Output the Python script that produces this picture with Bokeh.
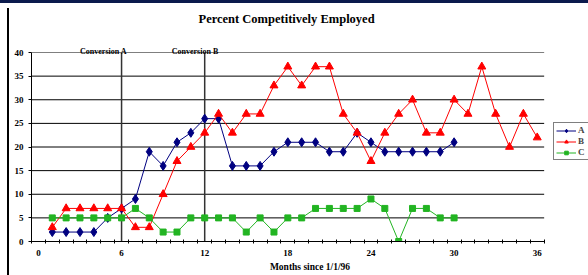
from bokeh.plotting import figure
from bokeh.models import Range1d, FixedTicker, Legend, LegendItem, LinearAxis
from bokeh.embed import file_html
from bokeh.resources import INLINE

# ---- data ----
months_A = list(range(1, 31))
series_A = [2, 2, 2, 2, 5, 7, 9, 19, 16, 21, 23, 26, 26, 16, 16, 16, 19, 21, 21, 21,
            19, 19, 23, 21, 19, 19, 19, 19, 19, 21]
months_B = list(range(1, 37))
series_B = [3, 7, 7, 7, 7, 7, 3, 3, 10, 17, 20, 23, 27, 23, 27, 27, 33, 37, 33, 37,
            37, 27, 23, 17, 23, 27, 30, 23, 23, 30, 27, 37, 27, 20, 27, 22]
months_C = list(range(1, 31))
series_C = [5, 5, 5, 5, 5, 5, 7, 5, 2, 2, 5, 5, 5, 5, 2, 5, 2, 5, 5, 7,
            7, 7, 7, 9, 7, 0, 7, 7, 5, 5]
series_names = ["A", "B", "C"]
x_ticks = [0, 6, 12, 18, 24, 30, 36]
y_ticks = [0, 5, 10, 15, 20, 25, 30, 35, 40]
conversion_months = [6, 12]
conversion_label_pos = [4.7, 11.3]
conversion_names = ["Conversion A", "Conversion B"]
title_text = "Percent Competitively Employed"
x_title = "Months since 1/1/96"

SERIF = "Liberation Serif"
X_LO, X_HI = -0.5, 36.5   # extent of the category axis

p = figure(width=588, height=267, output_backend="svg", toolbar_location=None,
           x_range=Range1d(X_LO, 39.7), y_range=Range1d(0, 40),
           min_border_left=31, min_border_right=0, min_border_top=44, min_border_bottom=34)
p.margin = (8, 0, 0, 0)
p.outline_line_color = None
p.background_fill_color = "white"
p.border_fill_alpha = 0
p.styles = {
    "background": "linear-gradient(#000000, #000000) 7px 0 / 2px 100% no-repeat, #ffffff",
    "box-shadow": "0 -5px 0 0 #ffffff, 0 -8px 0 0 #0b1a4d",
}

# main axes
xa = p.below[0]
ya = p.left[0]
xa.bounds = (X_LO, X_HI)
xa.ticker = FixedTicker(ticks=x_ticks, minor_ticks=[k - 0.5 for k in range(0, 38)])
xa.major_tick_in = 0
xa.major_tick_out = 0
xa.minor_tick_in = 2
xa.minor_tick_out = 2
xa.minor_tick_line_color = "black"
xa.major_label_standoff = 6
xa.axis_label = x_title
xa.axis_label_text_font = SERIF
xa.axis_label_text_font_style = "bold"
xa.axis_label_text_font_size = "9.5px"
xa.axis_label_text_color = "black"
xa.axis_label_standoff = 3
ya.ticker = FixedTicker(ticks=y_ticks)
ya.major_tick_in = 0
ya.major_tick_out = 3
ya.minor_tick_line_color = None
ya.major_label_standoff = 5
for ax in (xa, ya):
    ax.axis_line_color = "black"
    ax.axis_line_width = 1
    ax.major_tick_line_color = "black"
    ax.major_label_text_font = SERIF
    ax.major_label_text_font_style = "bold"
    ax.major_label_text_font_size = "9px"
    ax.major_label_text_color = "black"

p.xgrid.grid_line_color = None
p.ygrid.grid_line_color = None
# horizontal gridlines limited to the axis extent
p.segment(x0=[X_LO] * len(y_ticks), y0=y_ticks, x1=[X_HI] * len(y_ticks), y1=y_ticks,
          line_color="black", line_width=1)

# conversion labels (tick labels) and chart title (axis label) on a label-only axis above
conv_axis = LinearAxis(ticker=FixedTicker(ticks=conversion_label_pos, minor_ticks=[]),
                       major_label_overrides={conversion_label_pos[0]: conversion_names[0],
                                              conversion_label_pos[1]: conversion_names[1]},
                       bounds=(X_LO, 36.3))
conv_axis.axis_line_color = None
conv_axis.major_tick_line_color = None
conv_axis.minor_tick_line_color = None
conv_axis.major_tick_in = 0
conv_axis.major_tick_out = 0
conv_axis.major_label_standoff = -3
conv_axis.major_label_text_font = SERIF
conv_axis.major_label_text_font_style = "bold"
conv_axis.major_label_text_font_size = "8px"
conv_axis.major_label_text_color = "black"
# trailing no-break spaces shift the centred title left over the chart area
conv_axis.axis_label = title_text + "\u00a0" * 15
conv_axis.axis_label_standoff = 18
conv_axis.axis_label_text_font = SERIF
conv_axis.axis_label_text_font_style = "bold"
conv_axis.axis_label_text_font_size = "12.5px"
conv_axis.axis_label_text_color = "black"
p.add_layout(conv_axis, "above")

# conversion lines
p.segment(x0=conversion_months, y0=[0, 0], x1=conversion_months, y1=[40, 40],
          line_color="#333333", line_width=1.5)

# series
la = p.line(months_A, series_A, line_color="#000080", line_width=1)
sa = p.scatter(months_A, series_A, marker="diamond", size=9, fill_color="#000080", line_color="#000080")
lb = p.line(months_B, series_B, line_color="#ff0000", line_width=1)
sb = p.scatter(months_B, series_B, marker="triangle", size=8, fill_color="#ff0000", line_color="#ff0000")
lc = p.line(months_C, series_C, line_color="#22b422", line_width=1)
sc = p.scatter(months_C, series_C, marker="square", size=6, fill_color="#22b422", line_color="#22b422")

legend = Legend(items=[LegendItem(label=series_names[0], renderers=[la, sa]),
                       LegendItem(label=series_names[1], renderers=[lb, sb]),
                       LegendItem(label=series_names[2], renderers=[lc, sc])],
                location=(522, 81))
legend.border_line_color = "black"
legend.border_line_width = 1.5
legend.background_fill_color = "white"
legend.background_fill_alpha = 1
legend.label_text_font = SERIF
legend.label_text_font_style = "bold"
legend.label_text_font_size = "9px"
legend.glyph_width = 20
legend.glyph_height = 9
legend.label_height = 9
legend.label_standoff = 2
legend.spacing = 1
legend.padding = 2
legend.margin = 0
p.add_layout(legend)

open("out.html", "w").write(file_html(p, INLINE))
